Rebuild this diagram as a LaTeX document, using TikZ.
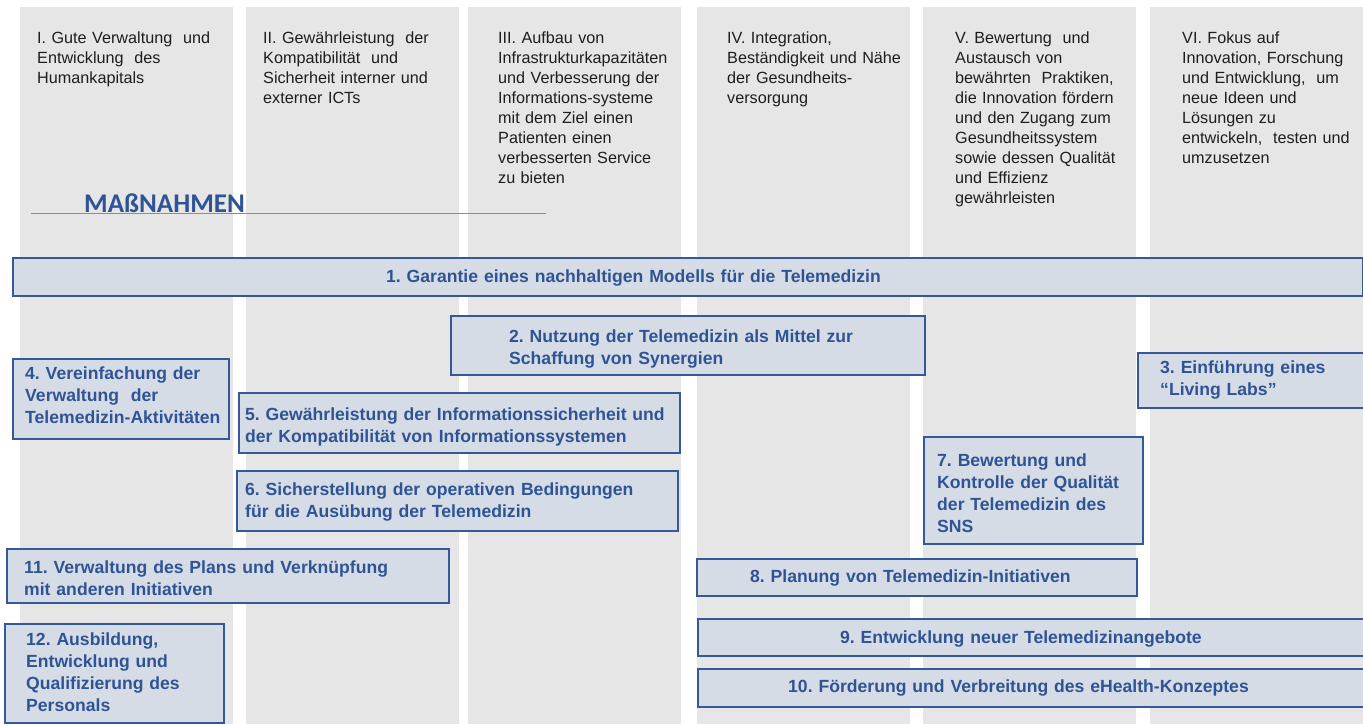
\documentclass[tikz,border=0pt]{standalone}
\usepackage{fontspec}
\setmainfont{Liberation Sans}
\newfontfamily\calfont{Carlito}
\frenchspacing
\definecolor{colgrey}{HTML}{E6E6E6}
\definecolor{boxfill}{HTML}{D6DCE5}
\definecolor{boxline}{HTML}{35589A}
\definecolor{boxtext}{HTML}{2F5496}
\definecolor{headtext}{HTML}{1E1E1E}
\definecolor{ruleblue}{HTML}{7090C8}
\tikzset{
  column/.style={fill=colgrey, draw=none, inner sep=0pt, anchor=north west},
  mbox/.style={fill=boxfill, draw=boxline, line width=1.8pt, inner sep=0pt, anchor=north west},
  btxt/.style={text=boxtext, inner sep=0pt, anchor=base west, align=left, text width=700pt,
    font=\fontsize{17.6}{22}\selectfont\bfseries\frenchspacing},
  htxt/.style={text=headtext, inner sep=0pt, anchor=base west, align=left, text width=215pt,
    font=\fontsize{16.2}{20}\selectfont\frenchspacing},
}
\begin{document}
\begin{tikzpicture}[x=1pt, y=-1pt]
\useasboundingbox (0,0) rectangle (1363,724);
\fill[white] (0,0) rectangle (1363,724);
% columns
\node[column, minimum width=213pt, minimum height=717pt] (c1) at (20,7) {};
\node[column, minimum width=213pt, minimum height=717pt] (c2) at (246,7) {};
\node[column, minimum width=213pt, minimum height=717pt] (c3) at (468,7) {};
\node[column, minimum width=213pt, minimum height=717pt] (c4) at (697,7) {};
\node[column, minimum width=213pt, minimum height=717pt] (c5) at (923,7) {};
\node[column, minimum width=213pt, minimum height=717pt] (c6) at (1150,7) {};
% headers
\node[htxt] (h1) at (37,43) {I. Gute Verwaltung\ \ und\\Entwicklung\ \ des\\Humankapitals};
\node[htxt] (h2) at (263,43) {II. Gewährleistung\ \ der\\Kompatibilität\ \ und\\Sicherheit interner und\\externer ICTs};
\node[htxt] (h3) at (498,43) {III. Aufbau von\\Infrastrukturkapazitäten\\und Verbesserung der\\Informations-systeme\\mit dem Ziel einen\\Patienten einen\\verbesserten Service\\zu bieten};
\node[htxt] (h4) at (727,43) {IV. Integration,\\Beständigkeit und Nähe\\der Gesundheits-\\versorgung};
\node[htxt] (h5) at (955,43) {V. Bewertung\ \ und\\Austausch von\\bewährten\ \ Praktiken,\\die Innovation fördern\\und den Zugang zum\\Gesundheitssystem\\sowie dessen Qualität\\und Effizienz\\gewährleisten};
\node[htxt] (h6) at (1182,43) {VI. Fokus auf\\Innovation, Forschung\\und Entwicklung,\ \ um\\neue Ideen und\\Lösungen zu\\entwickeln,\ \ testen und\\umzusetzen};
% Massnahmen
\node[text=boxtext, inner sep=0pt, anchor=base west, font=\calfont\fontsize{27}{30}\selectfont\bfseries] (mn) at (84,212) {MAßNAHMEN};
\coordinate (rl) at (31,213);
\coordinate (rr) at (546,213);
\draw[ruleblue, line width=0.9pt] (rl) -- (rr);
% boxes
\node[mbox, minimum width=1350pt, minimum height=38pt] (b1) at (12,257) {};
\node[mbox, minimum width=474pt, minimum height=59pt] (b2) at (450,315) {};
\node[mbox, minimum width=226pt, minimum height=55pt] (b3) at (1137,352) {};
\node[mbox, minimum width=216pt, minimum height=80pt] (b4) at (12,358) {};
\node[mbox, minimum width=441pt, minimum height=60pt] (b5) at (238,392) {};
\node[mbox, minimum width=441pt, minimum height=60pt] (b6) at (236,470) {};
\node[mbox, minimum width=219pt, minimum height=107pt] (b7) at (923,436) {};
\node[mbox, minimum width=442pt, minimum height=54pt] (b11) at (6,548) {};
\node[mbox, minimum width=219pt, minimum height=99pt] (b12) at (4,623) {};
\node[mbox, minimum width=440pt, minimum height=37pt] (b8) at (696,558) {};
\node[mbox, minimum width=666pt, minimum height=37pt] (b9) at (697,618) {};
\node[mbox, minimum width=666pt, minimum height=38pt] (b10) at (697,668) {};
% box texts
\node[btxt] (t1) at (386,282) {1. Garantie eines nachhaltigen Modells für die Telemedizin};
\node[btxt] (t2) at (509,342) {2. Nutzung der Telemedizin als Mittel zur\\Schaffung von Synergien};
\node[btxt] (t3) at (1160,373) {3. Einführung eines\\“Living Labs”};
\node[btxt] (t4) at (25,379) {4. Vereinfachung der\\Verwaltung\ \ der\\Telemedizin-Aktivitäten};
\node[btxt] (t5) at (245,420) {5. Gewährleistung der Informationssicherheit und\\der Kompatibilität von Informationssystemen};
\node[btxt] (t6) at (245,495) {6. Sicherstellung der operativen Bedingungen\\für die Ausübung der Telemedizin};
\node[btxt] (t7) at (937,466) {7. Bewertung und\\Kontrolle der Qualität\\der Telemedizin des\\SNS};
\node[btxt] (t11) at (24,573) {11. Verwaltung des Plans und Verknüpfung\\mit anderen Initiativen};
\node[btxt] (t12) at (26,645) {12. Ausbildung,\\Entwicklung und\\Qualifizierung des\\Personals};
\node[btxt] (t8) at (750,582) {8. Planung von Telemedizin-Initiativen};
\node[btxt] (t9) at (840,643) {9. Entwicklung neuer Telemedizinangebote};
\node[btxt] (t10) at (788,692) {10. Förderung und Verbreitung des eHealth-Konzeptes};
\end{tikzpicture}
\end{document}
